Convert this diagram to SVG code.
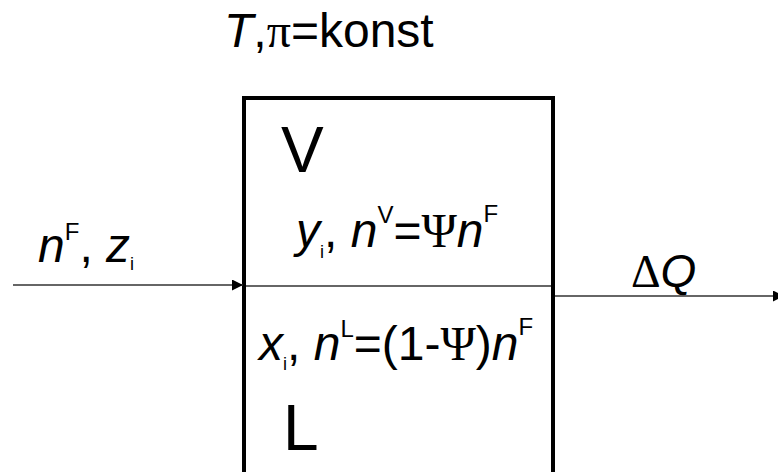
<svg xmlns="http://www.w3.org/2000/svg" width="778" height="472" viewBox="0 0 778 472">
<style>
text{font-family:"Liberation Sans",Arial,sans-serif;fill:#000}
.m{font-size:48px}
.big{font-size:64px}
.it{font-style:italic}
.sym{font-family:"Liberation Serif","Times New Roman",serif}
.sup{font-size:24px}
.sub{font-size:18px}
.conn{stroke:#333;stroke-width:1.5;fill:none}
.box{stroke:#000;stroke-width:4;fill:#fff}
</style>
<defs>
<marker id="ah" viewBox="0 0 10 10" refX="10" refY="5" markerWidth="11" markerHeight="11" markerUnits="userSpaceOnUse" orient="auto"><path d="M0,0L10,5L0,10z" fill="#000"/></marker>
</defs>
<text x="224" y="47" class="m"><tspan class="it">T</tspan>,<tspan class="sym">π</tspan>=konst</text>
<g id="flash">
<rect class="box" x="244" y="98" width="309" height="420"/>
<line class="conn" x1="246" y1="286" x2="551" y2="286"/>
<text x="281" y="172" class="big">V</text>
<text x="283" y="450" class="big">L</text>
<text x="296" y="247" class="m"><tspan class="it">y</tspan><tspan class="sub" dy="11">i</tspan><tspan dy="-11">, </tspan><tspan class="it">n</tspan><tspan class="sup" dy="-24">V</tspan><tspan dy="24">=</tspan><tspan class="sym">Ψ</tspan><tspan class="it">n</tspan><tspan class="sup" dy="-25">F</tspan></text>
<text x="259" y="360" class="m"><tspan class="it">x</tspan><tspan class="sub" dy="10">i</tspan><tspan dy="-10">, </tspan><tspan class="it">n</tspan><tspan class="sup" dy="-23">L</tspan><tspan dy="23">=(1-</tspan><tspan class="sym">Ψ</tspan>)<tspan class="it">n</tspan><tspan class="sup" dy="-25">F</tspan></text>
</g>
<g id="labels">
<text x="38" y="262" class="m"><tspan class="it">n</tspan><tspan class="sup" dy="-22">F</tspan><tspan dy="22">, </tspan><tspan class="it">z</tspan><tspan class="sub" dy="8">i</tspan></text>
<text x="631" y="287" class="m" style="font-size:46px"><tspan class="sym">Δ</tspan><tspan class="it">Q</tspan></text>
</g>
<g id="connectors">
<line class="conn" x1="13" y1="285" x2="243" y2="285" marker-end="url(#ah)"/>
<line class="conn" x1="555" y1="296" x2="784" y2="296" marker-end="url(#ah)"/>
</g>
</svg>
